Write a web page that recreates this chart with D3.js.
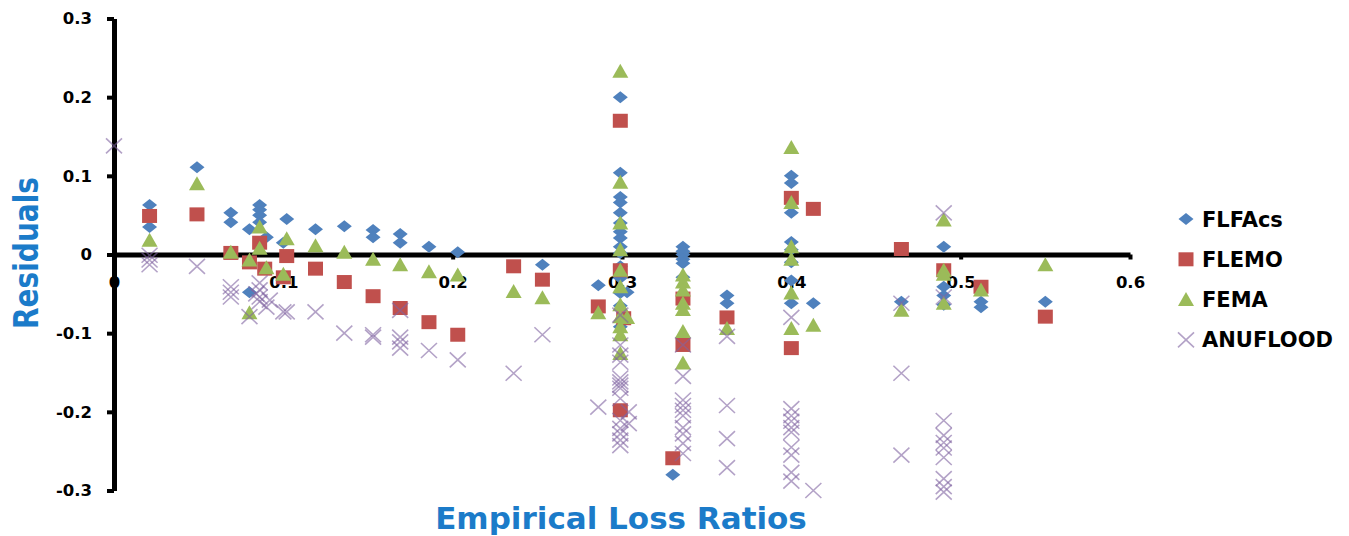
<!DOCTYPE html>
<html>
<head>
<meta charset="utf-8">
<script src="https://cdn.jsdelivr.net/npm/d3@7"></script>
<style>
  body { margin: 0; background: #fff; }
  text { font-family: "DejaVu Sans", sans-serif; font-weight: bold; }
</style>
</head>
<body>
<svg id="chart" width="1349" height="536"></svg>
<script>
// series names, in drawing order
const seriesNames = ["FLFAcs", "FLEMO", "FEMA", "ANUFLOOD"];
const xTicks = [0, 0.1, 0.2, 0.3, 0.4, 0.5, 0.6];
const yTicks = [-0.3, -0.2, -0.1, 0, 0.1, 0.2, 0.3];

// [empirical loss ratio, residual]
const flfacs = [
  [0.021, 0.063], [0.021, 0.035], [0.049, 0.111], [0.069, 0.053], [0.069, 0.041],
  [0.080, 0.032], [0.080, -0.048], [0.086, 0.063], [0.086, 0.057], [0.086, 0.050],
  [0.086, 0.041], [0.090, 0.022], [0.102, 0.045], [0.100, 0.015], [0.119, 0.032],
  [0.136, 0.036], [0.153, 0.031], [0.153, 0.022], [0.169, 0.026], [0.169, 0.015],
  [0.186, 0.010], [0.203, 0.003], [0.253, -0.013], [0.286, -0.039],
  [0.299, 0.200], [0.299, 0.104], [0.299, 0.073], [0.299, 0.066], [0.299, 0.053],
  [0.299, 0.040], [0.299, 0.029], [0.299, 0.021], [0.299, 0.010], [0.299, 0.002],
  [0.299, -0.015], [0.299, -0.030], [0.299, -0.049], [0.299, -0.065], [0.299, -0.092],
  [0.303, -0.048],
  [0.336, 0.010], [0.336, 0.004], [0.336, 0.000], [0.336, -0.006], [0.336, -0.011],
  [0.336, -0.029], [0.330, -0.280],
  [0.362, -0.052], [0.362, -0.062],
  [0.400, 0.100], [0.400, 0.091], [0.400, 0.053], [0.400, 0.016], [0.400, 0.006],
  [0.400, -0.010], [0.400, -0.033], [0.400, -0.062], [0.413, -0.062],
  [0.465, -0.060], [0.490, 0.010], [0.490, -0.041], [0.490, -0.052], [0.490, -0.064],
  [0.512, -0.060], [0.512, -0.067], [0.550, -0.060]
];
const flemo = [
  [0.021, 0.049], [0.049, 0.051], [0.069, 0.002], [0.080, -0.010], [0.086, 0.015],
  [0.089, -0.018], [0.100, -0.029], [0.102, -0.002], [0.119, -0.018], [0.136, -0.035],
  [0.153, -0.053], [0.169, -0.068], [0.186, -0.086], [0.203, -0.102], [0.236, -0.015],
  [0.253, -0.032], [0.286, -0.066], [0.299, 0.170], [0.299, -0.020], [0.301, -0.081],
  [0.299, -0.198], [0.336, -0.056], [0.336, -0.115], [0.330, -0.259], [0.362, -0.080],
  [0.400, 0.072], [0.400, -0.119], [0.413, 0.058], [0.465, 0.007], [0.490, -0.020],
  [0.512, -0.041], [0.550, -0.079]
];
const fema = [
  [0.021, 0.018], [0.049, 0.090], [0.069, 0.003], [0.080, -0.007], [0.080, -0.074],
  [0.086, 0.035], [0.086, 0.008], [0.090, -0.017], [0.100, -0.025], [0.102, 0.020],
  [0.119, 0.011], [0.136, 0.003], [0.153, -0.006], [0.169, -0.013], [0.186, -0.022],
  [0.203, -0.026], [0.236, -0.047], [0.253, -0.055], [0.286, -0.074],
  [0.299, 0.233], [0.299, 0.092], [0.299, 0.040], [0.299, 0.006], [0.299, -0.020],
  [0.299, -0.041], [0.299, -0.064], [0.299, -0.079], [0.299, -0.092], [0.299, -0.102],
  [0.299, -0.126], [0.303, -0.080],
  [0.336, -0.026], [0.336, -0.035], [0.336, -0.045], [0.336, -0.062], [0.336, -0.070],
  [0.336, -0.098], [0.336, -0.138], [0.362, -0.094],
  [0.400, 0.136], [0.400, 0.066], [0.400, 0.010], [0.400, -0.006], [0.400, -0.049],
  [0.400, -0.094], [0.413, -0.090], [0.465, -0.071],
  [0.490, 0.044], [0.490, -0.020], [0.490, -0.025], [0.490, -0.062],
  [0.512, -0.045], [0.550, -0.013]
];
const anuflood = [
  [0.000, 0.138], [0.021, -0.001], [0.021, -0.007], [0.021, -0.013], [0.049, -0.015],
  [0.069, -0.041], [0.069, -0.048], [0.069, -0.054], [0.080, -0.079], [0.086, -0.036],
  [0.086, -0.045], [0.086, -0.054], [0.086, -0.060], [0.090, -0.067], [0.084, -0.050],
  [0.092, -0.058], [0.100, -0.073], [0.102, -0.073], [0.119, -0.073], [0.136, -0.100],
  [0.153, -0.102], [0.153, -0.105], [0.169, -0.071], [0.169, -0.105], [0.169, -0.111],
  [0.169, -0.119], [0.186, -0.122], [0.203, -0.134], [0.236, -0.151], [0.253, -0.102],
  [0.286, -0.194],
  [0.299, -0.077], [0.299, -0.115], [0.299, -0.128], [0.299, -0.137], [0.299, -0.157],
  [0.299, -0.162], [0.299, -0.166], [0.299, -0.170], [0.299, -0.183], [0.299, -0.211],
  [0.299, -0.221], [0.299, -0.228], [0.299, -0.236], [0.299, -0.243],
  [0.304, -0.200], [0.304, -0.215],
  [0.336, -0.115], [0.336, -0.155], [0.336, -0.185], [0.336, -0.192], [0.336, -0.198],
  [0.336, -0.205], [0.336, -0.220], [0.336, -0.228], [0.336, -0.240], [0.336, -0.253],
  [0.362, -0.104], [0.362, -0.192], [0.362, -0.234], [0.362, -0.271],
  [0.400, -0.080], [0.400, -0.196], [0.400, -0.205], [0.400, -0.212], [0.400, -0.220],
  [0.400, -0.226], [0.400, -0.245], [0.400, -0.255], [0.400, -0.277], [0.400, -0.288],
  [0.413, -0.300],
  [0.465, -0.062], [0.465, -0.151], [0.465, -0.255],
  [0.490, 0.053], [0.490, -0.054], [0.490, -0.211], [0.490, -0.230], [0.490, -0.239],
  [0.490, -0.246], [0.490, -0.258], [0.490, -0.285], [0.490, -0.295], [0.490, -0.302]
];

const colors = ["#4F81BD", "#C0504D", "#9BBB59", "#8064A2"];
const allSeries = [flfacs, flemo, fema, anuflood];

// marker shapes, centred on 0,0 (slightly wider than tall like the original)
const shapes = [
  "M0,-6L7.5,0L0,6L-7.5,0Z",
  "M-7.5,-7H7.5V7H-7.5Z",
  "M0,-7.5L8,6.5H-8Z",
  "M-8,-7.5L8,7.5M-8,7.5L8,-7.5"
];

let svg = d3.select("#chart");

let x = d3.scaleLinear().domain([0, 0.6]).range([114, 1130]);
let y = d3.scaleLinear().domain([-0.3, 0.3]).range([490.5, 18.5]);

let fmt = d => d === 0 ? "0" : d.toFixed(1);

// y axis
let yAxis = svg.append("g")
  .attr("transform", `translate(${x(0)},0)`)
  .call(d3.axisLeft(y).tickValues(yTicks).tickSize(7).tickSizeOuter(0).tickPadding(15).tickFormat(fmt));

// x axis, crossing at zero residual
let xAxis = svg.append("g")
  .attr("transform", `translate(0,${y(0)})`)
  .call(d3.axisBottom(x).tickValues(xTicks).tickSize(5).tickSizeOuter(0).tickPadding(17).tickFormat(fmt));

for (let g of [yAxis, xAxis]) {
  g.select(".domain").attr("stroke", "#000").attr("stroke-width", 5);
  g.selectAll(".tick line").attr("stroke", "#000").attr("stroke-width", 4);
  g.selectAll(".tick text")
    .attr("fill", "#000")
    .style("font-size", "16.5px")
    .style("font-family", "'DejaVu Sans', sans-serif")
    .style("font-weight", "bold");
}

// points, series by series
allSeries.forEach((data, i) => {
  let sel = svg.append("g").selectAll("path")
    .data(data)
    .join("path")
    .attr("d", shapes[i])
    .attr("transform", d => `translate(${x(d[0])},${y(d[1])})`);
  if (i === 3) {
    sel.attr("fill", "none").attr("stroke", colors[i]).attr("stroke-width", 1.6).attr("stroke-opacity", 0.6);
  } else {
    sel.attr("fill", colors[i]);
  }
});

// legend
let legend = svg.append("g");
seriesNames.forEach((name, i) => {
  let ly = 219 + i * 40.3;
  let m = legend.append("path")
    .attr("d", shapes[i])
    .attr("transform", `translate(1186,${ly})`);
  if (i === 3) m.attr("fill", "none").attr("stroke", colors[i]).attr("stroke-width", 1.6).attr("stroke-opacity", 0.6);
  else m.attr("fill", colors[i]);
  legend.append("text")
    .attr("x", 1202).attr("y", ly).attr("dy", "0.36em")
    .style("font-size", "21px")
    .attr("fill", "#000")
    .text(name);
});

// axis titles
svg.append("text")
  .attr("x", 621).attr("y", 529)
  .attr("text-anchor", "middle")
  .attr("fill", "#1b7bc9")
  .style("font-size", "31px")
  .text("Empirical Loss Ratios");

svg.append("text")
  .attr("transform", "translate(38,253) rotate(-90) scale(1,1.2)")
  .attr("text-anchor", "middle")
  .attr("fill", "#1b7bc9")
  .style("font-size", "28px")
  .text("Residuals");
</script>
</body>
</html>
